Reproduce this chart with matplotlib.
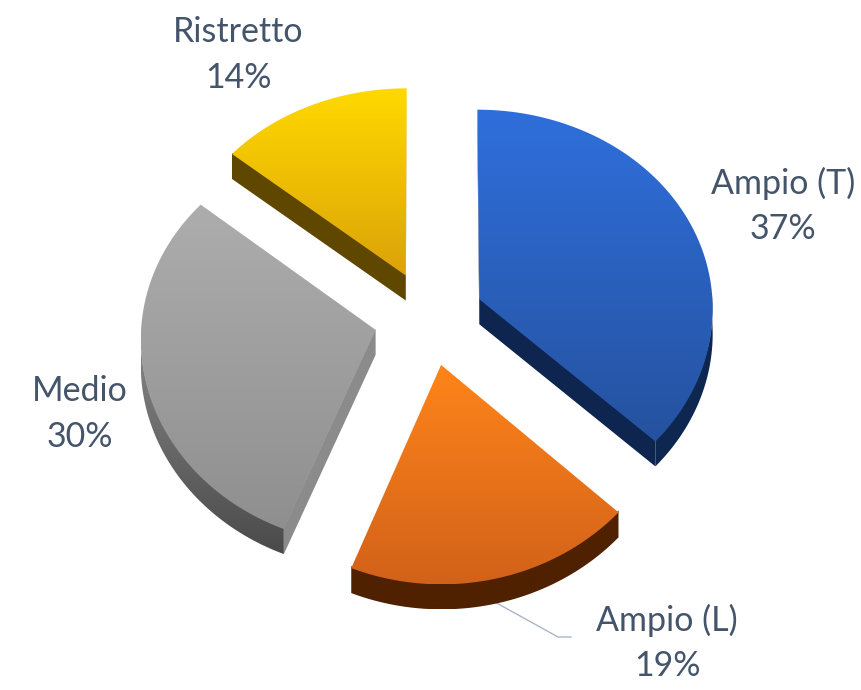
import numpy as np
import matplotlib
matplotlib.use('Agg')
import matplotlib.pyplot as plt
from matplotlib.colors import LinearSegmentedColormap
from matplotlib.patches import Polygon
from matplotlib.path import Path

labels = ['Ampio (T)', 'Ampio (L)', 'Medio', 'Ristretto']
values = [37, 19, 30, 14]
top_colors = [('#2f6fdc', '#25529f'), ('#ff8419', '#d2621a'), ('#adadad', '#8f8f8f'), ('#ffd900', '#dba209')]
rim_colors = [('#0e2750', '#0e2750'), ('#4f2100', '#4f2100'), ('#8a8a8a', '#4a4a4a'), ('#5f4700', '#5f4700')]
face_colors = ['#0e2550', '#4f2100', '#8b8b8b', '#5f4700']
label_pos = [(783, 183), (667, 620), (80, 391), (238, 32)]
text_color = '#44546a'

# pixel layout of the tilted disc
cx, cy = 429, 318
rx, ry = 234, 202
persp_x = 0.04
persp_y = 0.055
explode = 0.235
depth = 25


def project(u, v):
    return cx + rx * u / (1 + persp_x * v), cy - ry * v / (1 + persp_y * v)


def gradient_fill(ax, outline, colors, name, z):
    patch = Polygon(outline, closed=True, facecolor='none', edgecolor='none', zorder=z)
    ax.add_patch(patch)
    cmap = LinearSegmentedColormap.from_list(name, colors)
    grad = np.linspace(0, 1, 256).reshape(-1, 1)
    im = ax.imshow(grad, cmap=cmap, aspect='auto', zorder=z, interpolation='bilinear',
                   extent=(outline[:, 0].min(), outline[:, 0].max(), outline[:, 1].max(), outline[:, 1].min()))
    im.set_clip_path(patch)


fig = plt.figure(figsize=(8.61, 6.90), dpi=100)
ax = fig.add_axes([0, 0, 1, 1])

total = sum(values)
start = 0.0
for i, val in enumerate(values):
    sweep = val / total * 2 * np.pi
    mid = start + sweep / 2
    ox, oy = explode * np.sin(mid), explode * np.cos(mid)
    th = np.linspace(start, start + sweep, 120)
    xs, ys = project(ox + np.sin(th), oy + np.cos(th))
    ax_x, ax_y = project(ox, oy)
    outline = np.column_stack([np.r_[ax_x, xs], np.r_[ax_y, ys]])
    top_path = Path(np.vstack([outline, outline[:1]]))

    # only the walls that are not hidden behind the top face
    front = np.cos(th) <= 0.02
    if front.sum() > 1:
        fx, fy = xs[front], ys[front]
        rim = np.column_stack([np.r_[fx, fx[::-1]], np.r_[fy - 2, fy[::-1] + depth]])
        gradient_fill(ax, rim, rim_colors[i], 'r%d' % i, 2)
    for px, py in [(xs[0], ys[0]), (xs[-1], ys[-1])]:
        probe = ((ax_x + px) / 2, (ax_y + py) / 2 + 6)
        if not top_path.contains_point(probe):
            wall = [(ax_x, ax_y - 1), (px, py - 1), (px, py + depth), (ax_x, ax_y + depth)]
            ax.add_patch(Polygon(wall, closed=True, facecolor=face_colors[i], edgecolor='none', zorder=2))

    gradient_fill(ax, outline, top_colors[i], 'g%d' % i, 3)
    start += sweep

ax.set_xlim(0, 861)
ax.set_ylim(690, 0)
ax.axis('off')

# leader for the Ampio (L) label
ax.plot([493, 558, 571], [601, 637, 637], color='#a9b6c8', lw=1, zorder=1)

for name, val, (tx, ty) in zip(labels, values, label_pos):
    ax.text(tx, ty, name, ha='center', va='center', fontsize=24.5, color=text_color, family='Lato')
    ax.text(tx, ty + 46, '%d%%' % val, ha='center', va='center', fontsize=24.5, color=text_color, family='Lato')

fig.savefig('out.png', dpi=100)
